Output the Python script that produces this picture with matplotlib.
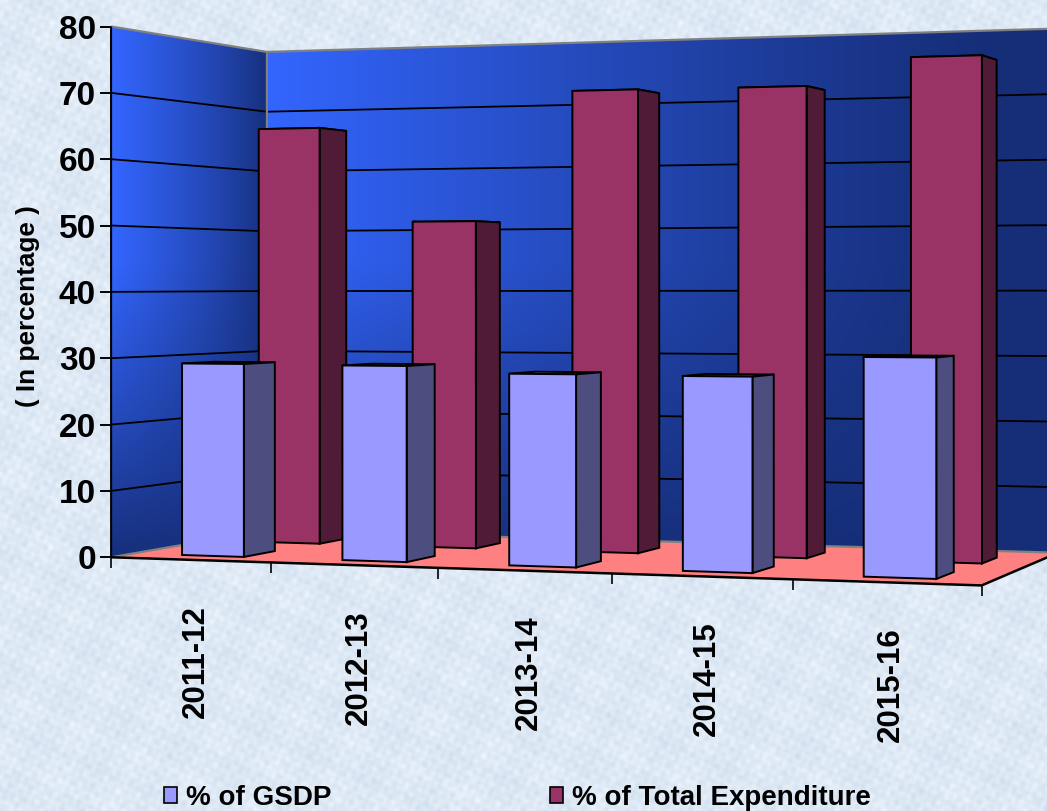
import numpy as np
import matplotlib
matplotlib.use("Agg")
import matplotlib.pyplot as plt
from matplotlib.patches import Polygon, Patch

categories = ["2011-12", "2012-13", "2013-14", "2014-15", "2015-16"]
gsdp = [29.1, 29.0, 28.0, 27.9, 30.8]
expenditure = [65.9, 50.9, 70.8, 70.7, 74.6]
y_ticks = [0, 10, 20, 30, 40, 50, 60, 70, 80]
series_names = ["% of GSDP", "% of Total Expenditure"]

W, H = 1047, 811
plt.rcParams["font.family"] = ["Liberation Sans", "DejaVu Sans"]
plt.rcParams["font.weight"] = "bold"
fig = plt.figure(figsize=(W / 100, H / 100), dpi=100)
ax = fig.add_axes([0, 0, 1, 1])
ax.set_xlim(0, W)
ax.set_ylim(H, 0)
ax.axis("off")

# camera fitted on the box of the 3D chart: (category, value, depth) -> pixel
anchors = [
    (0, 0, 0, 111, 556), (0, 80, 0, 111, 27), (0, 40, 0, 111, 291.5),
    (0, 0, 1, 267, 531), (0, 80, 1, 267, 52), (0, 40, 1, 267, 291),
    (5, 0, 0, 981, 586), (2, 0, 0, 437, 568), (3, 0, 0, 614, 574),
    (5, 0, 1, 1058, 552), (5, 80, 1, 1058, 28), (5, 40, 1, 1058, 291),
]
rows = []
for X, Y, Z, u, v in anchors:
    Yn, un, vn = Y / 80, u / 1000, v / 1000
    rows.append([X, Yn, Z, 1, 0, 0, 0, 0, -un * X, -un * Yn, -un * Z, -un])
    rows.append([0, 0, 0, 0, X, Yn, Z, 1, -vn * X, -vn * Yn, -vn * Z, -vn])
P = np.linalg.svd(np.array(rows, float))[2][-1].reshape(3, 4)


def proj(x, val, d):
    p = P @ np.array([x, val / 80, d, 1.0])
    return p[0] / p[2] * 1000, p[1] / p[2] * 1000


# background texture
yy, xx = np.mgrid[0:H, 0:W]
waves = [(0.31, 0.17, 0.0), (0.13, -0.29, 1.3), (0.53, 0.47, 0.5), (-0.41, 0.37, 2.1),
         (0.23, 0.61, 0.9), (0.67, -0.19, 3.3), (0.09, 0.05, 1.7), (-0.05, 0.11, 0.4),
         (0.83, 0.29, 2.7), (-0.37, 0.79, 4.1)]
tex = sum(np.sin(a * xx + b * yy + c) for a, b, c in waves) / 4.5
bg = np.stack([222 + 9 * tex, 233 + 7 * tex, 245 + 5 * tex], axis=-1) / 255
ax.imshow(np.clip(bg, 0, 1), extent=(0, W, H, 0), aspect="auto", zorder=0)

bright = np.array([0x33, 0x66, 0xff]) / 255
dark = np.array([0x16, 0x2e, 0x78]) / 255


def gradient(poly, tx):
    ty = np.clip((560 - yy) / 300, 0, 1) ** 0.9
    t = (np.clip(tx, 0, 1) * ty)[..., None]
    img = dark + (bright - dark) * t
    im = ax.imshow(img, extent=(0, W, H, 0), aspect="auto", zorder=1)
    patch = Polygon(poly, closed=True, transform=ax.transData, fc="none", ec="none")
    ax.add_patch(patch)
    im.set_clip_path(patch)


left_wall = [proj(0, 0, 0), proj(0, 80, 0), proj(0, 80, 1), proj(0, 0, 1)]
back_wall = [proj(0, 0, 1), proj(0, 80, 1), proj(5, 80, 1), proj(5, 0, 1)]
floor = [proj(0, 0, 0), proj(0, 0, 1), proj(5, 0, 1), proj(5, 0, 0)]
gradient(left_wall, np.clip((267 - xx) / 156, 0, 1) ** 0.8)
gradient(back_wall, np.clip((1000 - xx) / 733, 0, 1) ** 1.2)


def line(a, b, color="black", lw=1.3, z=3):
    ax.plot([a[0], b[0]], [a[1], b[1]], color=color, lw=lw, zorder=z,
            solid_capstyle="butt", clip_on=True)


ax.add_patch(Polygon(floor, closed=True, fc="#ff8080", ec="none", zorder=2))
for v in y_ticks[1:-1]:
    line(proj(0, v, 0), proj(0, v, 1))
    line(proj(0, v, 1), proj(5, v, 1))
grey = "#808080"
line(proj(0, 80, 0), proj(0, 80, 1), grey, 1.6)
line(proj(0, 80, 1), proj(5, 80, 1), grey, 1.6)
line(proj(0, 0, 1), proj(0, 80, 1), grey, 1.6)
line(proj(0, 0, 1), proj(5, 0, 1), grey, 1.6)
line(proj(0, 0, 0), proj(0, 0, 1), grey, 1.6)


def box(i, val, x_off, width, d0, d1, face, side, top, z):
    x0, x1 = i + x_off, i + x_off + width
    kw = dict(closed=True, ec="black", lw=1.4, joinstyle="miter", zorder=z)
    ax.add_patch(Polygon([proj(x0, val, d0), proj(x1, val, d0), proj(x1, val, d1), proj(x0, val, d1)],
                         fc=top, **kw))
    ax.add_patch(Polygon([proj(x1, 0, d0), proj(x1, val, d0), proj(x1, val, d1), proj(x1, 0, d1)],
                         fc=side, **kw))
    ax.add_patch(Polygon([proj(x0, 0, d0), proj(x0, val, d0), proj(x1, val, d0), proj(x1, 0, d0)],
                         fc=face, **kw))


for i, v in enumerate(expenditure):
    box(i, v, 0.335, 0.40, 0.6, 0.79, "#993366", "#4f1b36", "#7a2952", 4)
for i, v in enumerate(gsdp):
    box(i, v, 0.312, 0.39, 0.13, 0.33, "#9999ff", "#4d4d80", "#7a7acc", 5)

# axes
line(proj(0, 0, 0), proj(0, 80, 0), lw=1.5, z=6)
line(proj(0, 0, 0), proj(5, 0, 0), lw=1.8, z=6)
line(proj(5, 0, 0), proj(5, 0, 1), lw=1.8, z=3.5)
for v in y_ticks:
    x, y = proj(0, v, 0)
    line((x - 11, y), (x, y), lw=1.4, z=6)
    ax.text(x - 15, y + 3.5, str(v), ha="right", va="center", fontsize=24, fontweight="bold", zorder=7)
for i in range(len(categories) + 1):
    x, y = proj(i, 0, 0)
    line((x, y), (x, y + 11), lw=1.2, z=6)
for i, c in enumerate(categories):
    x, y = proj(i + 0.5, 0, 0)
    ax.text(x + 5, y + 45, c, rotation=90, ha="center", va="top", fontsize=22.5, fontweight="bold", zorder=7)

ax.text(28, 306, "( In percentage )", rotation=90, ha="center", va="center", fontsize=18.8, fontweight="bold", zorder=7)

handles = [Patch(fc="#9999ff", ec="black", lw=1.2), Patch(fc="#993366", ec="black", lw=1.2)]
ax.legend(handles, series_names, ncol=2, loc="lower left", bbox_to_anchor=(164, 811), bbox_transform=ax.transData,
          frameon=False, handlelength=0.48, handleheight=0.48, handletextpad=0.32,
          columnspacing=7.85, borderpad=0, borderaxespad=0, prop={"weight": "bold", "size": 20})

fig.savefig("out.png", dpi=100)
